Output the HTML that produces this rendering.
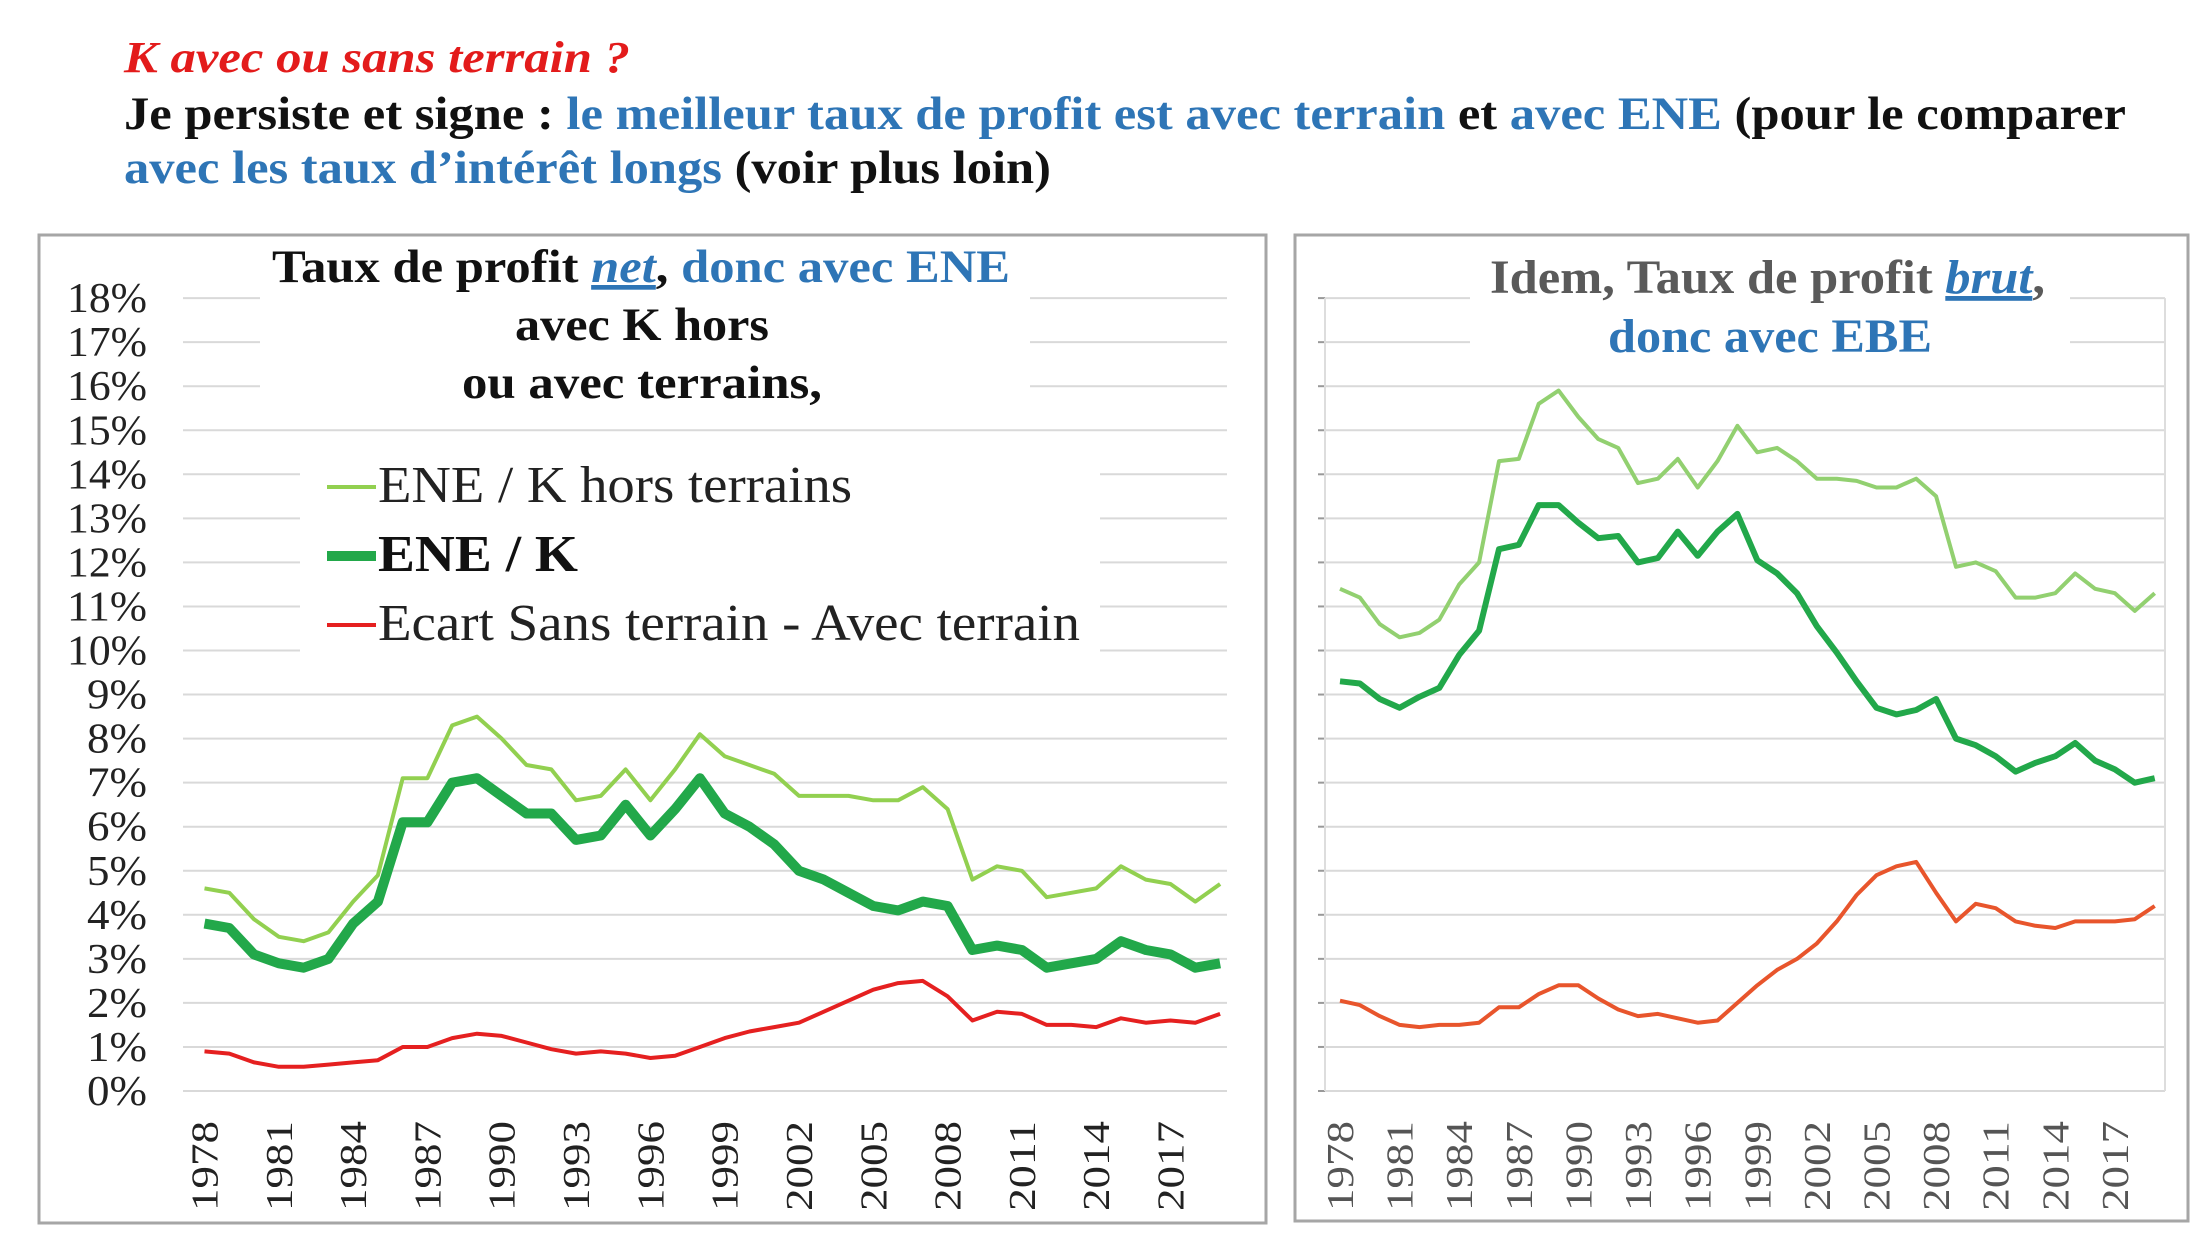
<!DOCTYPE html>
<html><head><meta charset="utf-8"><style>
body{margin:0;background:#fff}
svg{display:block}
text{font-family:"Liberation Serif",serif}
</style></head><body>
<svg id="s" width="2200" height="1236" viewBox="0 0 2200 1236" xmlns="http://www.w3.org/2000/svg">
<rect width="2200" height="1236" fill="#fff"/>
<text x="124" y="72" font-size="44" font-weight="bold" font-style="italic" fill="#e31b1b" textLength="506" lengthAdjust="spacingAndGlyphs">K avec ou sans terrain ?</text>
<text x="124" y="129" font-size="47" font-weight="bold" fill="#111" textLength="2002" lengthAdjust="spacingAndGlyphs">Je persiste et signe : <tspan fill="#2e75b6">le meilleur taux de profit est avec terrain </tspan> et <tspan fill="#2e75b6">avec ENE</tspan> (pour le comparer</text>
<text x="124" y="183" font-size="47" font-weight="bold" fill="#111" textLength="927" lengthAdjust="spacingAndGlyphs"><tspan fill="#2e75b6">avec les taux d’intérêt longs</tspan> (voir plus loin)</text>
<rect x="39" y="235" width="1227" height="988" fill="#fff" stroke="#a6a6a6" stroke-width="3"/>
<rect x="1295" y="235" width="893" height="986" fill="#fff" stroke="#a6a6a6" stroke-width="3"/>
<g id="g"></g>
<rect x="260" y="245" width="770" height="170" fill="#fff"/>
<rect x="300" y="455" width="800" height="200" fill="#fff"/>
<rect x="1470" y="250" width="600" height="115" fill="#fff"/>
<text x="272" y="282" font-size="47" font-weight="bold" fill="#111" textLength="738" lengthAdjust="spacingAndGlyphs">Taux de profit <tspan fill="#2e75b6" font-style="italic" text-decoration="underline">net</tspan>, <tspan fill="#2e75b6">donc avec ENE</tspan></text>
<text x="515" y="340" font-size="47" font-weight="bold" fill="#111" textLength="254" lengthAdjust="spacingAndGlyphs">avec K hors</text>
<text x="462" y="398" font-size="47" font-weight="bold" fill="#111" textLength="360" lengthAdjust="spacingAndGlyphs">ou avec terrains,</text>
<line x1="327" y1="487" x2="376" y2="487" stroke="#92d050" stroke-width="4"/>
<text x="378" y="502" font-size="52" fill="#222" textLength="474" lengthAdjust="spacingAndGlyphs">ENE / K hors terrains</text>
<line x1="327" y1="556" x2="376" y2="556" stroke="#22a84a" stroke-width="10"/>
<text x="378" y="571" font-size="52" font-weight="bold" fill="#111" textLength="200" lengthAdjust="spacingAndGlyphs">ENE / K</text>
<line x1="327" y1="625" x2="376" y2="625" stroke="#e52020" stroke-width="4"/>
<text x="378" y="640" font-size="52" fill="#222" textLength="702" lengthAdjust="spacingAndGlyphs">Ecart Sans terrain - Avec terrain</text>
<text x="1490" y="293" font-size="48" font-weight="bold" fill="#5a5a5a" textLength="555" lengthAdjust="spacingAndGlyphs">Idem, Taux de profit <tspan fill="#2e75b6" font-style="italic" text-decoration="underline">brut</tspan>,</text>
<text x="1608" y="352" font-size="48" font-weight="bold" fill="#2e75b6" textLength="324" lengthAdjust="spacingAndGlyphs">donc avec EBE</text>
<g id="d"></g>
</svg>
<script>
var NS="http://www.w3.org/2000/svg",g=document.getElementById('g'),d=document.getElementById('d');
function el(p,t,a,txt){var e=document.createElementNS(NS,t);for(var k in a)e.setAttribute(k,a[k]);if(txt!=null)e.textContent=txt;p.appendChild(e);return e;}
var y0=1091,u=44.05;
for(var i=0;i<=18;i++){var y=y0-i*u;
el(g,'line',{x1:183,x2:1227,y1:y,y2:y,stroke:'#d9d9d9','stroke-width':2});
el(g,'line',{x1:1325,x2:2165,y1:y,y2:y,stroke:'#d9d9d9','stroke-width':2});
el(g,'line',{x1:1318,x2:1325,y1:y,y2:y,stroke:'#999','stroke-width':2});
var w=i>=10?80:60;
el(g,'text',{x:147-w,y:y+14,'font-size':42,fill:'#222',textLength:w,lengthAdjust:'spacingAndGlyphs'},i+'%');}
el(g,'line',{x1:1325,x2:1325,y1:y0-18*u,y2:y0,stroke:'#ddd','stroke-width':2});
el(g,'line',{x1:2165,x2:2165,y1:y0-18*u,y2:y0,stroke:'#ddd','stroke-width':2});
for(var yr=1978;yr<=2017;yr+=3){var k=yr-1978;
var xl=204.5+k*24.77,xr=1340+k*19.87;
el(g,'text',{x:-90,y:0,'font-size':38,fill:'#222',textLength:90,lengthAdjust:'spacingAndGlyphs',transform:'translate('+(xl+13)+',1121) rotate(-90)'},yr);
el(g,'text',{x:-90,y:0,'font-size':38,fill:'#555',textLength:90,lengthAdjust:'spacingAndGlyphs',transform:'translate('+(xr+13)+',1121) rotate(-90)'},yr);}
var L1=[4.6,4.5,3.9,3.5,3.4,3.6,4.3,4.9,7.1,7.1,8.3,8.5,8.0,7.4,7.3,6.6,6.7,7.3,6.6,7.3,8.1,7.6,7.4,7.2,6.7,6.7,6.7,6.6,6.6,6.9,6.4,4.8,5.1,5.0,4.4,4.5,4.6,5.1,4.8,4.7,4.3,4.7];
var L2=[3.8,3.7,3.1,2.9,2.8,3.0,3.8,4.3,6.1,6.1,7.0,7.1,6.7,6.3,6.3,5.7,5.8,6.5,5.8,6.4,7.1,6.3,6.0,5.6,5.0,4.8,4.5,4.2,4.1,4.3,4.2,3.2,3.3,3.2,2.8,2.9,3.0,3.4,3.2,3.1,2.8,2.9];
var L3=[0.9,0.85,0.65,0.55,0.55,0.6,0.65,0.7,1.0,1.0,1.2,1.3,1.25,1.1,0.95,0.85,0.9,0.85,0.75,0.8,1.0,1.2,1.35,1.45,1.55,1.8,2.05,2.3,2.45,2.5,2.15,1.6,1.8,1.75,1.5,1.5,1.45,1.65,1.55,1.6,1.55,1.75];
var R1=[11.4,11.2,10.6,10.3,10.4,10.7,11.5,12.0,14.3,14.35,15.6,15.9,15.3,14.8,14.6,13.8,13.9,14.35,13.7,14.3,15.1,14.5,14.6,14.3,13.9,13.9,13.85,13.7,13.7,13.9,13.5,11.9,12.0,11.8,11.2,11.2,11.3,11.75,11.4,11.3,10.9,11.3];
var R2=[9.3,9.25,8.9,8.7,8.95,9.15,9.9,10.45,12.3,12.4,13.3,13.3,12.9,12.55,12.6,12.0,12.1,12.7,12.15,12.7,13.1,12.05,11.75,11.3,10.55,9.95,9.3,8.7,8.55,8.65,8.9,8.0,7.85,7.6,7.25,7.45,7.6,7.9,7.5,7.3,7.0,7.1];
var R3=[2.05,1.95,1.7,1.5,1.45,1.5,1.5,1.55,1.9,1.9,2.2,2.4,2.4,2.1,1.85,1.7,1.75,1.65,1.55,1.6,2.0,2.4,2.75,3.0,3.35,3.85,4.45,4.9,5.1,5.2,4.5,3.85,4.25,4.15,3.85,3.75,3.7,3.85,3.85,3.85,3.9,4.2];
function line(a,x0,dx,c,w){var p=a.map(function(v,i){return (x0+i*dx).toFixed(1)+','+(y0-v*u).toFixed(1)}).join(' ');
el(d,'polyline',{points:p,fill:'none',stroke:c,'stroke-width':w,'stroke-linejoin':'round'});}
line(L3,204.5,24.77,'#e52020',4);line(L1,204.5,24.77,'#92d050',4);line(L2,204.5,24.77,'#22a84a',10);
line(R3,1340,19.87,'#e8552c',4);line(R1,1340,19.87,'#92d070',4);line(R2,1340,19.87,'#22a84a',6);
</script>
</body></html>
